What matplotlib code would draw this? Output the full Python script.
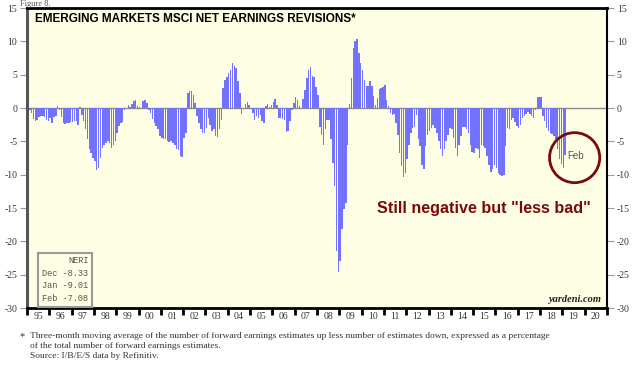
import numpy as np
import matplotlib
matplotlib.use("Agg")
import matplotlib.pyplot as plt
from matplotlib.patches import Ellipse

# monthly NERI values, Jan 1995 .. Feb 2019
neri_by_year = {
    1995: [0.7, -0.3, -0.8, -1.6, -1.9, -1.8, -1.3, -1.2, -1.2, -1.3, -1.8, -1.9],
    1996: [-1.5, -2.2, -1.3, -1.2, 0.35, -0.3, -1.3, -2.3, -2.4, -2.2, -2.2, -2.1],
    1997: [-2.1, -1.9, -2.0, -2.6, 0.1, -1.0, -2.0, -3.2, -4.7, -6.2, -6.7, -7.5],
    1998: [-8.0, -9.35, -9.0, -7.5, -6.0, -5.5, -5.2, -5.0, -5.2, -6.0, -5.5, -5.0],
    1999: [-3.8, -2.7, -2.2, -2.1, -0.25, 0.05, 0.4, 0.15, 0.65, 1.0, 1.25, 0.35],
    2000: [0.1, 0.05, 1.0, 1.25, 0.75, -0.25, -0.75, -1.6, -2.2, -2.7, -3.2, -4.2],
    2001: [-4.5, -4.6, -4.7, -5.0, -5.1, -5.0, -5.2, -5.5, -6.2, -6.3, -7.2, -7.3],
    2002: [-4.5, -3.7, 2.2, 2.5, 2.6, 2.0, 0.75, -1.25, -2.2, -3.2, -3.7, -3.8],
    2003: [-3.0, -1.5, -2.5, -3.5, -3.2, -4.2, -4.3, -3.2, -1.75, 3.0, 4.2, 4.7],
    2004: [5.2, 5.7, 6.8, 6.3, 6.0, 4.0, 2.2, -0.85, -0.15, 0.6, 0.85, 0.5],
    2005: [-0.15, -0.75, -1.75, -1.25, -1.5, -1.0, -2.0, -2.2, 0.3, 0.65, 0.1, 0.5],
    2006: [0.85, 1.35, 0.5, -1.5, -1.5, -1.65, -1.75, -3.6, -3.4, -2.0, -0.3, 0.8],
    2007: [1.6, 1.15, 0.25, 0.05, 1.4, 2.7, 4.5, 5.7, 6.1, 4.8, 4.7, 3.2],
    2008: [2.0, -2.8, -4.1, -5.5, -3.2, -1.75, -1.85, -4.7, -8.2, -11.7, -21.4, -24.6],
    2009: [-22.9, -18.2, -15.2, -14.2, -5.5, 0.65, 4.5, 9.0, 10.0, 10.4, 8.2, 6.7],
    2010: [5.7, 4.2, 3.3, 3.3, 4.0, 3.3, 1.75, 0.5, 1.5, 2.8, 3.0, 3.2],
    2011: [3.5, 1.25, 0.25, -0.75, -1.0, -0.9, -2.2, -4.0, -6.7, -8.7, -10.4, -9.7],
    2012: [-7.7, -5.5, -3.7, -3.0, -2.9, -1.0, -4.7, -5.7, -8.5, -9.1, -5.7, -4.0],
    2013: [-3.5, -3.0, -2.5, -3.0, -3.7, -5.0, -6.2, -7.2, -6.2, -5.0, -4.0, -3.0],
    2014: [-3.2, -4.5, -6.0, -7.2, -5.5, -4.2, -2.9, -2.9, -3.1, -3.7, -5.5, -6.6],
    2015: [-6.7, -6.0, -6.2, -7.5, -5.5, -5.7, -6.0, -7.2, -8.5, -9.6, -9.2, -8.5],
    2016: [-9.0, -9.7, -10.0, -10.2, -10.0, -5.7, -3.0, -3.2, -1.75, -1.5, -2.1, -2.7],
    2017: [-3.0, -2.5, -1.5, -1.25, -0.9, -0.6, -0.9, -1.25, -1.5, -0.25, 1.6, 1.6],
    2018: [1.6, -1.25, -2.0, -3.0, -3.5, -3.7, -3.9, -4.2, -4.7, -6.2, -7.7, -8.33],
    2019: [-9.01, -7.08],
}
values = np.concatenate([neri_by_year[y] for y in sorted(neri_by_year)])
months = np.arange(len(values))

years = list(range(1995, 2021))
year_labels = [f"{y % 100:02d}" for y in years]
y_ticks = list(range(-30, 16, 5))
box_lines = ["Dec -8.33", "Jan -9.01", "Feb -7.08"]

fig = plt.figure(figsize=(6.4, 3.7), dpi=100)
ax = fig.add_axes([27 / 640, 1 - 308 / 370, 580 / 640, 300 / 370])
ax.set_facecolor("#fefee4")

ax.bar(months + 0.5, values, width=0.8, color="#7272ff", edgecolor="none", zorder=2)
ax.axhline(0, color="#8c8c8c", lw=1, zorder=1)

ax.set_xlim(0, 12 * len(years))
ax.set_ylim(-30, 15)

ax.set_xticks([12 * i for i in range(len(years) + 1)])
ax.set_xticklabels([])
ax.set_xticks([12 * i + 6 for i in range(len(years))], minor=True)
ax.set_xticklabels(year_labels, minor=True, fontsize=7, family="Liberation Serif", color="#333333")
ax.tick_params(axis="x", which="major", direction="out", length=5, width=2, color="black")
ax.tick_params(axis="x", which="minor", length=0, pad=3)

ax.set_yticks(y_ticks)
ax.set_yticklabels([str(v) for v in y_ticks], fontsize=7, family="Liberation Serif", color="#333333")
ax.tick_params(axis="y", which="both", left=True, right=True, labelleft=True, labelright=True,
               direction="out", length=5, width=0.8, color="#999999", pad=2)

for side, c, w in [("left", "#555555", 2.2), ("bottom", "black", 2), ("top", "black", 2), ("right", "black", 1.5)]:
    ax.spines[side].set_color(c)
    ax.spines[side].set_linewidth(w)

ax.text(0.014, 0.985, "EMERGING MARKETS MSCI NET EARNINGS REVISIONS*", transform=ax.transAxes,
        ha="left", va="top", fontsize=8.5, fontweight="bold", family="Liberation Sans")

ax.text(0.99, 0.012, "yardeni.com", transform=ax.transAxes, ha="right", va="bottom",
        fontsize=7.5, style="italic", fontweight="bold", family="Liberation Serif", color="#222222")

# annotation circle around the latest reading
ax.add_patch(Ellipse((294.6, -7.45), 27, 7.5, fill=False, ec="#7a0a0a", lw=2, zorder=3))
ax.text(len(values) + 0.5, -7.25, "Feb", fontsize=7, color="#555555", family="Liberation Sans",
        ha="left", va="center", zorder=4)
ax.text(188.5, -15.0, "Still negative but \"less bad\"", fontsize=11.6, fontweight="bold",
        color="#7a0a0a", family="Liberation Sans", ha="left", va="center", zorder=4)

# legend box with latest values
ax.text(0.106, 0.172, "NERI\n" + "\n".join(box_lines), transform=ax.transAxes, ha="right", va="top",
        fontsize=6.2, family="Liberation Mono", color="#555555", linespacing=1.5, multialignment="right",
        bbox=dict(boxstyle="square,pad=0.45", fc="#fefee4", ec="#999999", lw=1.5), zorder=5)

fig.text(20 / 640, 1 - 337 / 370, "*", fontsize=7.5, family="Liberation Serif", color="#333333", va="center")
fig.text(30 / 640, 1 - 332 / 370,
         "Three-month moving average of the number of forward earnings estimates up less number of estimates down, expressed as a percentage\n"
         "of the total number of forward earnings estimates.\nSource: I/B/E/S data by Refinitiv.",
         fontsize=6.8, family="Liberation Serif", color="#333333", va="top", linespacing=1.3)

fig.text(20 / 640, 1.0, "Figure 8.", fontsize=6, family="Liberation Serif", color="#555555", va="top")

fig.savefig("out.png", dpi=100)
